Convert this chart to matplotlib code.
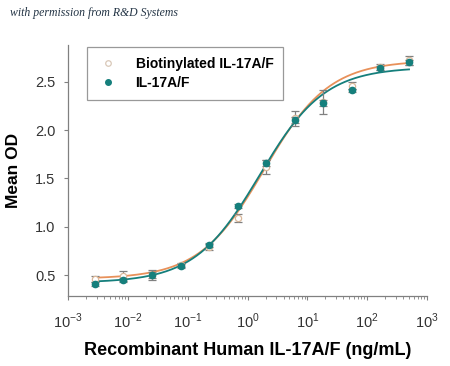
import numpy as np
import matplotlib
matplotlib.use("Agg")
import matplotlib.pyplot as plt
from matplotlib.ticker import LogLocator, FixedLocator
from matplotlib.lines import Line2D

# ---- data ----
conc = [0.00282, 0.00847, 0.0254, 0.0762, 0.229, 0.686, 2.06, 6.17, 18.5, 55.6, 166.7, 500.0]
od_teal = [0.41, 0.45, 0.50, 0.59, 0.81, 1.21, 1.66, 2.10, 2.28, 2.41, 2.64, 2.70]
err_teal = [0.02, 0.02, 0.03, 0.02, 0.02, 0.02, 0.03, 0.03, 0.03, 0.02, 0.02, 0.03]
od_orange = [0.46, 0.49, 0.50, 0.60, 0.79, 1.09, 1.62, 2.12, 2.29, 2.46, 2.65, 2.72]
err_orange = [0.03, 0.05, 0.05, 0.02, 0.03, 0.04, 0.07, 0.08, 0.12, 0.04, 0.03, 0.05]
# 4PL fit parameters (bottom, top, EC50, Hill)
fit_teal = dict(bottom=0.42, top=2.65, ec50=1.6, hill=0.8)
fit_orange = dict(bottom=0.46, top=2.72, ec50=1.9, hill=0.8)
labels = ["Biotinylated IL-17A/F", "IL-17A/F"]
yticks = [0.5, 1.0, 1.5, 2.0, 2.5]
xticks = [1e-3, 1e-2, 1e-1, 1e0, 1e1, 1e2, 1e3]

TEAL = "#157f7c"
ORANGE = "#e8915a"
GRAY = "#808080"

def fourpl(x, p):
    x = np.asarray(x)
    return p["bottom"] + (p["top"] - p["bottom"]) / (1 + (p["ec50"] / x) ** p["hill"])

plt.rcParams['font.family'] = ['Liberation Sans', 'DejaVu Sans']
plt.rcParams['mathtext.fontset'] = 'custom'
plt.rcParams['mathtext.rm'] = 'Liberation Sans'
fig = plt.figure(figsize=(4.5, 3.66), dpi=100)
ax = fig.add_axes([0.151, 0.191, 0.798, 0.686])

xs = np.logspace(np.log10(conc[0]), np.log10(conc[-1]), 300)
ax.plot(xs, fourpl(xs, fit_orange), color=ORANGE, lw=1.3, zorder=2)
ax.plot(xs, fourpl(xs, fit_teal), color=TEAL, lw=1.3, zorder=3)

ax.errorbar(conc, od_orange, yerr=err_orange, fmt='o', ms=4.5, mfc='white',
            mec="#d9b89a", mew=0.9, ecolor=GRAY, elinewidth=0.9, capsize=3, capthick=0.9,
            zorder=4)
ax.errorbar(conc, od_teal, yerr=err_teal, fmt='o', ms=4.5, mfc=TEAL, mec=TEAL,
            ecolor=GRAY, elinewidth=0.9, capsize=3, capthick=0.9,
            zorder=5)

ax.set_xscale('log')
ax.set_xlim(1e-3, 1e3)
ax.set_ylim(0.282, 2.88)
ax.xaxis.set_major_locator(FixedLocator(xticks))
ax.xaxis.set_minor_locator(LogLocator(base=10, subs=np.arange(2, 10), numticks=20))
ax.set_yticks(yticks)
ax.set_yticklabels([f"{v:.1f}" for v in yticks])
ax.set_xticklabels([f"$10^{{{int(np.log10(v))}}}$" for v in xticks])

for s in ['top', 'right']:
    ax.spines[s].set_visible(False)
for s in ['left', 'bottom']:
    ax.spines[s].set_color(GRAY)
    ax.spines[s].set_linewidth(0.9)
ax.tick_params(axis='both', which='major', direction='out', length=3, color=GRAY,
               labelsize=10.5, labelcolor='#333333', pad=6)
ax.tick_params(axis='x', which='minor', direction='out', length=2, color=GRAY)
ax.tick_params(axis='x', which='major', pad=8)

ax.set_xlabel("Recombinant Human IL-17A/F (ng/mL)", fontsize=13, fontweight='bold', labelpad=8)
ax.set_ylabel("Mean OD", fontsize=12.5, fontweight='bold', labelpad=10)

handles = [
    Line2D([], [], ls='none', marker='o', ms=4, mfc='white', mec="#d9c8b8", mew=0.9),
    Line2D([], [], ls='none', marker='o', ms=4, mfc=TEAL, mec=TEAL),
]
leg = fig.legend(handles, labels, loc='upper left', bbox_to_anchor=(87/450, 1 - 47/366),
                 borderaxespad=0, frameon=True, fancybox=False, edgecolor=GRAY,
                 prop={'weight': 'bold', 'size': 10},
                 handletextpad=1.2, borderpad=0.7, labelspacing=0.4, handlelength=1.6)
leg.get_frame().set_linewidth(0.9)

fig.text(0.022, 0.955, "with permission from R&D Systems", fontsize=8.5, style='italic',
         family='Liberation Serif', color='#223344')

fig.savefig("out.png", dpi=100)
